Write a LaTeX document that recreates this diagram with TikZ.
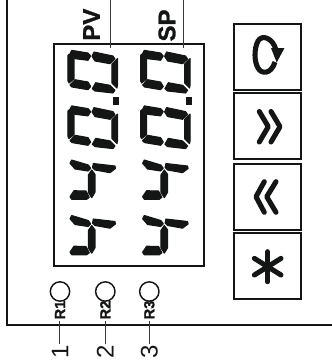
\documentclass[tikz,border=0pt]{standalone}
\usepackage{fontspec}
\setmainfont{Liberation Sans}
\newfontfamily\tagbold{Liberation Sans Bold}[FakeBold=1.2]
\definecolor{ink}{HTML}{141616}
\tikzset{
  x=0.75pt,y=-0.75pt,
  frameline/.style={draw=ink,line width=1.5pt},
  lead/.style={draw=ink!85,line width=0.75pt},
  seg/.style={fill=ink,draw=ink,line width=0.8pt,line join=round},
  keybox/.style={draw=ink,line width=1.5pt},
  glyph/.style={draw=ink,line width=3.8pt,line cap=round,line join=round},
  boldtag/.style={font=\tagbold\fontsize{18}{20}\selectfont,text=ink,rotate=90,inner sep=0pt},
  smalltag/.style={font=\tagbold\fontsize{11}{13}\selectfont,text=ink,rotate=90,inner sep=0pt},
  numtag/.style={font=\fontsize{18}{20}\selectfont,text=ink,rotate=90,inner sep=0pt},
  eightfull/.pic={
    \filldraw[seg] (10,11.7)--(11.7,8.3)--(28,11)--(30.7,14)--(28,18.3)--(15,16.7)--cycle;
    \filldraw[seg] (34,10)--(53,14)--(55,17)--(50,21.7)--(35,19)--(32,14.3)--cycle;
    \filldraw[seg] (8,13.3)--(9.5,12)--(14,16.7)--(14,37)--(9,41)--(8,39)--cycle;
    \filldraw[seg] (57.5,16.5)--(52,22)--(52,41)--(57,46)--(57.5,43)--cycle;
    \filldraw[seg] (10,43)--(15,37.7)--(28,40)--(30.7,44.5)--(28,47.7)--(12,45)--cycle;
    \filldraw[seg] (32.3,46.7)--(35.7,40.7)--(50,43.3)--(55,48.3)--(53,51)--(35,49)--cycle;
  },
  tshape/.pic={
    \filldraw[seg] (10,10.3)--(11.7,7)--(28.3,12)--(30.7,15.3)--(28,18)--(15,16)--cycle;
    \filldraw[seg] (33.3,10.5)--(55,13)--(55.5,15.5)--(50,19.7)--(35,17)--(32.5,14.5)--cycle;
    \filldraw[seg] (31.7,17)--(35,21.3)--(35,39.3)--(31.7,44.7)--(28.3,39.3)--(28.3,22)--cycle;
    \filldraw[seg] (10,43.7)--(14,37.7)--(26,38)--(29.3,44.3)--(26.7,46.3)--(11.7,46.3)--cycle;
  }
}
\begin{document}
\begin{tikzpicture}
\useasboundingbox (0,0) rectangle (332,362);
% housing
\coordinate (hsTop) at (7.3,0);
\coordinate (hsCorner) at (7.3,325);
\coordinate (hsRight) at (332,325);
\draw[frameline] (hsTop) -- (hsCorner) -- (hsRight);
% display
\draw[frameline] (54,43.7) rectangle (203.7,265.7);
% digits
\foreach \dx in {0,72.6}{
  \foreach \dy in {0,55.6}{
    \pic at (60+\dx,42+\dy) {eightfull};
  }
  \foreach \dy in {111,166.5}{
    \pic at (60+\dx,42+\dy) {tshape};
  }
  \fill[ink] (113.3+\dx,97) rectangle (119+\dx,105);
}
% PV / SP
\node[boldtag] (pv) at (91.5,24.7) {PV};
\node[boldtag] (sp) at (167,25.5) {SP};
\coordinate (pvTop) at (110.7,0);
\coordinate (pvEnd) at (110.7,48);
\coordinate (spTop) at (183.3,0);
\coordinate (spEnd) at (183.3,47.7);
\draw[lead] (pvTop) -- (pvEnd);
\draw[lead] (spTop) -- (spEnd);
% keys
\draw[keybox] (234,24) rectangle (300.7,90);
\draw[keybox] (234,93.3) rectangle (300.7,159.3);
\draw[keybox] (234,164) rectangle (300.7,230);
\draw[keybox] (234,233) rectangle (300.7,299.3);
% rotate glyph
\draw[glyph,line cap=butt] (276,50) .. controls (273,38) and (262,34) .. (258,41)
  .. controls (254,49) and (254,61) .. (258,68)
  .. controls (261,74) and (271,75) .. (275,62);
\fill[ink] (271,48) -- (284.5,48) -- (276.7,62.5) -- cycle;
% forward
\draw[glyph] (259.3,111.5) -- (268.3,126.7) -- (259.3,142);
\draw[glyph] (271,111.5) -- (280,126.7) -- (271,142);
% back
\draw[glyph] (264.3,181.7) -- (256,196.7) -- (264.3,212.3);
\draw[glyph] (276,181.7) -- (266.7,196.7) -- (276,212.3);
% star
\draw[glyph] (267.7,251.7) -- (267.7,281.7);
\draw[glyph] (254.4,258.4) -- (281,275);
\draw[glyph] (254.4,275) -- (281,258.4);
% relay indicators
\foreach \n/\cx/\num in {1/60/1,2/105.3/2,3/149.3/3}{
  \node[draw=ink,line width=1.1pt,circle,minimum size=14.5pt,inner sep=0pt] (led\n) at (\cx,291.5) {};
  \node[smalltag] (tag\n) at (\cx,310) {R\n};
  \coordinate (leadTop\n) at (\cx,321);
  \coordinate (leadEnd\n) at (\cx,344);
  \draw[lead] (leadTop\n) -- (leadEnd\n);
  \node[numtag] (num\n) at (\cx,351.5) {\num};
}
\end{tikzpicture}
\end{document}
